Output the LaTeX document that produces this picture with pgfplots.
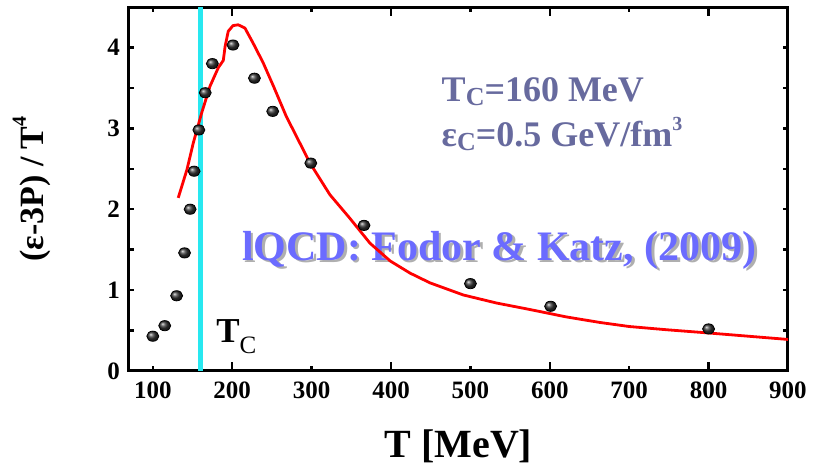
\documentclass[border=0pt]{standalone}
\usepackage{fontspec}
\setmainfont{Liberation Serif}
\usepackage{pgfplots}
\pgfplotsset{compat=1.18}
\usetikzlibrary{shadings}

\definecolor{tccyan}{RGB}{40,232,240}
\definecolor{slate}{RGB}{103,106,158}
\definecolor{lqcd}{RGB}{107,107,255}
\definecolor{shadowgray}{RGB}{175,175,175}

% lattice QCD trace anomaly, data points
\pgfplotstableread{
T    I
100  0.43
115  0.56
130  0.93
140  1.46
147  2.00
152  2.47
158  2.98
166  3.44
175  3.80
201  4.03
228  3.62
251  3.21
299  2.57
366  1.80
500  1.08
601  0.80
800  0.52
}\latticedata

% fitted curve
\pgfplotstableread{
T      I
132    2.14
143    2.49
151    2.82
161.5  3.19
172    3.52
182.5  3.75
188.8  3.84
191    4.01
195    4.20
201    4.27
207.5  4.28
216    4.24
226.5  4.05
239    3.81
252    3.52
268    3.15
298    2.57
323    2.18
348    1.89
373.5  1.58
399    1.36
424    1.21
449    1.09
491    0.94
533    0.84
575    0.76
620    0.67
663    0.60
700    0.55
747    0.51
800    0.47
850    0.43
900    0.39
}\fitcurve

\newcommand{\lowsub}[1]{\raisebox{-0.22ex}{\fontsize{13}{14}\selectfont #1}}
\newcommand{\highsup}[2]{\raisebox{#1}{\fontsize{10}{10}\selectfont #2}}

\begin{document}
\begin{tikzpicture}
\useasboundingbox (-64.5pt,-47pt) rectangle (349pt,185.5pt);
\begin{axis}[
  scale only axis,
  width=329.5pt, height=182pt,
  xmin=70, xmax=900, ymin=0, ymax=4.5,
  axis line style={line width=1.5pt},
  tick style={line width=1.2pt, black},
  tick align=inside,
  major tick length=2.6pt,
  minor tick length=2.6pt,
  xtick={100,200,...,900},
  extra x ticks={200,400,600,800},
  extra x tick labels={},
  extra x tick style={major tick length=4.6pt},
  ytick={0,1,2,3,4},
  minor y tick num=1,
  /pgf/number format/assume math mode=true,
  ticklabel style={font=\fontsize{12.5}{13}\selectfont\bfseries},
  xticklabel style={yshift=-2pt},
  yticklabel style={xshift=-1pt},
  xlabel={T [MeV]},
  xlabel style={font=\fontsize{20}{22}\selectfont\bfseries,
    at={(axis description cs:0.5,0)}, anchor=base, yshift=-43.5pt},
  ylabel={(ε-3P) / T\highsup{1.1ex}{4}},
  ylabel style={font=\fontsize{17}{19}\selectfont\bfseries,
    at={(axis description cs:-0.1305,0.5)}, anchor=base},
  clip=false,
]
  % critical temperature
  \addplot[tccyan, line width=2.2pt] coordinates {(160,0) (160,4.5)};

  % annotations
  \node[anchor=base west, text=slate, font=\fontsize{18}{20}\selectfont\bfseries]
    at (axis cs:455,3.33) {T\lowsub{C}=160 MeV};
  \node[anchor=base west, text=slate, font=\fontsize{18}{20}\selectfont\bfseries]
    at (axis cs:455,2.77) {ε\lowsub{C}=0.5 GeV/fm\highsup{1.0ex}{3}};
  \node[anchor=base west, text=shadowgray, font=\fontsize{21}{23}\selectfont\bfseries,
    xshift=1.3pt, yshift=-1.3pt]
    at (axis cs:203.5,1.37) {lQCD: Fodor \& Katz, (2009)};
  \node[anchor=base west, text=lqcd, font=\fontsize{21}{23}\selectfont\bfseries]
    at (axis cs:203.5,1.37) {lQCD: Fodor \& Katz, (2009)};
  \node[anchor=base west, font=\fontsize{17.5}{19}\selectfont\bfseries]
    at (axis cs:171,0.35) {T\raisebox{-0.7ex}{\fontsize{12.5}{13}\selectfont\mdseries C}};

  \addplot[only marks, mark=ball, mark size=3pt,
    mark options={ball color=black!80, yscale=0.85}] table[x=T, y=I] {\latticedata};

  \addplot[red, line width=1.4pt, line join=round] table[x=T, y=I] {\fitcurve};
\end{axis}
\end{tikzpicture}
\end{document}
